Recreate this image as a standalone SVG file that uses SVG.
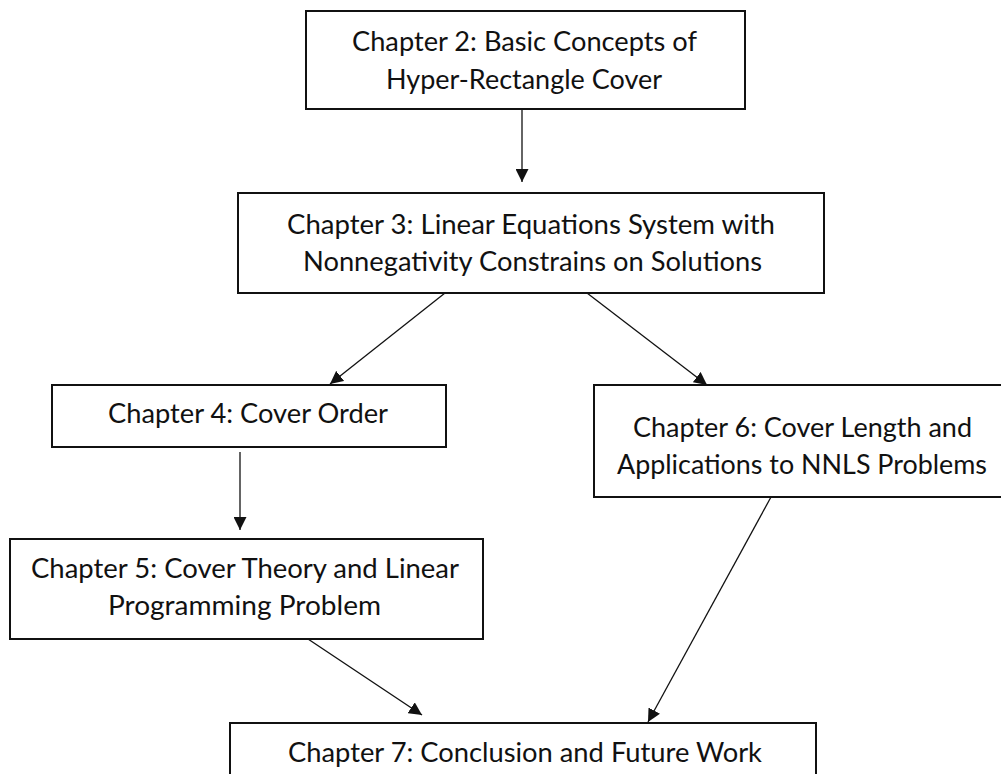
<svg xmlns="http://www.w3.org/2000/svg" width="1001" height="774" viewBox="0 0 1001 774">
<style>
.box{fill:#fff;stroke:#111;stroke-width:2}
.t{font-family:Lato,"Open Sans",sans-serif;font-size:27px;fill:#111;text-anchor:middle}
.c{stroke:#111;stroke-width:1.3;fill:none;marker-end:url(#ah)}
</style>
<defs>
<marker id="ah" markerUnits="userSpaceOnUse" markerWidth="14" markerHeight="13" refX="13" refY="6.5" orient="auto">
<path d="M0,0 L13,6.5 L0,13 z" fill="#111"/>
</marker>
</defs>
<rect width="1001" height="774" fill="#fff"/>
<g id="connectors">
<line class="c" x1="522" y1="109" x2="522" y2="182"/>
<line class="c" x1="445" y1="293" x2="330" y2="384"/>
<line class="c" x1="587" y1="293" x2="707" y2="385"/>
<line class="c" x1="240" y1="452" x2="240" y2="530"/>
<line class="c" x1="308" y1="639" x2="422" y2="715"/>
<line class="c" x1="771" y1="497" x2="648" y2="722"/>
</g>
<g id="ch2">
<rect class="box" x="306" y="11" width="439" height="98"/>
<text class="t" x="524.5" y="51" textLength="345" lengthAdjust="spacingAndGlyphs">Chapter 2: Basic Concepts of</text>
<text class="t" x="524" y="89" textLength="276" lengthAdjust="spacingAndGlyphs">Hyper-Rectangle Cover</text>
</g>
<g id="ch3">
<rect class="box" x="238" y="193" width="586" height="100"/>
<text class="t" x="531" y="234" textLength="488" lengthAdjust="spacingAndGlyphs">Chapter 3: Linear Equations System with</text>
<text class="t" x="532.5" y="271" textLength="459" lengthAdjust="spacingAndGlyphs">Nonnegativity Constrains on Solutions</text>
</g>
<g id="ch4">
<rect class="box" x="52" y="385" width="394" height="62"/>
<text class="t" x="248" y="423" textLength="280" lengthAdjust="spacingAndGlyphs">Chapter 4: Cover Order</text>
</g>
<g id="ch5">
<rect class="box" x="10" y="539" width="473" height="100"/>
<text class="t" x="245" y="578" textLength="428" lengthAdjust="spacingAndGlyphs">Chapter 5: Cover Theory and Linear</text>
<text class="t" x="244.5" y="615" textLength="273" lengthAdjust="spacingAndGlyphs">Programming Problem</text>
</g>
<g id="ch6">
<rect class="box" x="594" y="385" width="420" height="112"/>
<text class="t" x="802.5" y="437" textLength="339" lengthAdjust="spacingAndGlyphs">Chapter 6: Cover Length and</text>
<text class="t" x="802" y="474" textLength="370" lengthAdjust="spacingAndGlyphs">Applications to NNLS Problems</text>
</g>
<g id="ch7">
<rect class="box" x="230" y="723" width="586" height="80"/>
<text class="t" x="525" y="762" textLength="474" lengthAdjust="spacingAndGlyphs">Chapter 7: Conclusion and Future Work</text>
</g>
</svg>
